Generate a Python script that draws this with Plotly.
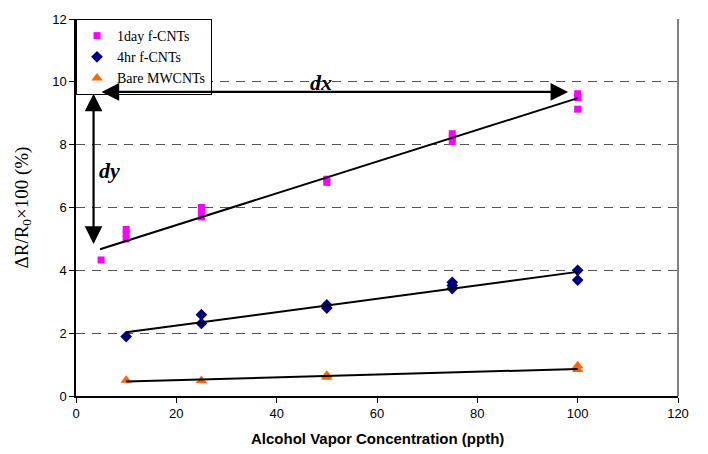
import plotly.graph_objects as go

# ---- data ----
day1_x = [5, 10, 10, 10, 25, 25, 25, 50, 50, 75, 75, 75, 100, 100, 100]
day1_y = [4.33, 5.0, 5.15, 5.3, 5.7, 5.85, 6.0, 6.8, 6.9, 8.1, 8.22, 8.35, 9.13, 9.5, 9.62]

hr4_x = [10, 25, 25, 50, 50, 75, 75, 75, 100, 100]
hr4_y = [1.89, 2.31, 2.59, 2.8, 2.9, 3.42, 3.52, 3.62, 3.69, 4.0]

bare_x = [10, 25, 50, 50, 100, 100]
bare_y = [0.5, 0.49, 0.6, 0.66, 0.84, 0.96]

# linear trend lines (slope, intercept) and x-span
fit_day1 = (0.0505, 4.43)
fit_hr4 = (0.02136, 1.815)
fit_bare = (0.00444, 0.416)
span_day1 = [4.8, 100]
span_hr4 = [10, 100]
span_bare = [10, 100]

x_ticks = [0, 20, 40, 60, 80, 100, 120]
y_ticks = [0, 2, 4, 6, 8, 10, 12]

fig = go.Figure()

fig.add_trace(go.Scatter(x=day1_x, y=day1_y, mode="markers", name="1day f-CNTs",
                         marker=dict(symbol="square", size=7, color="#FF00FF")))
fig.add_trace(go.Scatter(x=hr4_x, y=hr4_y, mode="markers", name="4hr f-CNTs",
                         marker=dict(symbol="diamond", size=9, color="#000080")))
fig.add_trace(go.Scatter(x=bare_x, y=bare_y, mode="markers", name="Bare MWCNTs",
                         marker=dict(symbol="triangle-up", size=10, color="#FF6600")))

for (m, b), span in [(fit_day1, span_day1), (fit_hr4, span_hr4), (fit_bare, span_bare)]:
    fig.add_trace(go.Scatter(x=span, y=[m * v + b for v in span], mode="lines",
                             line=dict(color="black", width=2), showlegend=False,
                             hoverinfo="skip"))

# right border of plot area
fig.add_shape(type="line", xref="paper", yref="paper", x0=1, x1=1, y0=0, y1=1,
              line=dict(color="#808080", width=2))

# dx and dy double arrows
arrow_style = dict(showarrow=True, arrowhead=2, arrowsize=1.6, arrowwidth=2.2,
                   arrowcolor="black", arrowside="end+start", text="",
                   xref="x", yref="y", axref="x", ayref="y")
fig.add_annotation(x=98.1, y=9.68, ax=4.8, ay=9.68, **arrow_style)
fig.add_annotation(x=3.5, y=4.84, ax=3.5, ay=9.67, **arrow_style)

fig.add_annotation(x=48.8, y=9.98, xref="x", yref="y", text="<b><i>dx</i></b>",
                   showarrow=False, font=dict(family="Liberation Serif", size=22, color="black"))
fig.add_annotation(x=6.6, y=7.17, xref="x", yref="y", text="<b><i>dy</i></b>",
                   showarrow=False, font=dict(family="Liberation Serif", size=22, color="black"))

# axis titles
fig.add_annotation(x=-54 / 602, y=0.5, xref="paper", yref="paper",
                   xanchor="center", yanchor="middle",
                   text="ΔR/R<sub>0</sub>×100 (%)", textangle=-90, showarrow=False,
                   font=dict(family="Liberation Serif", size=19, color="black"))
fig.add_annotation(x=0.5, y=-(439 - 396) / 382, xref="paper", yref="paper",
                   xanchor="center", yanchor="middle",
                   text="<b>Alcohol Vapor Concentration (ppth)</b>", showarrow=False,
                   font=dict(family="Liberation Sans", size=15, color="black"))

fig.update_layout(
    width=708, height=454,
    margin=dict(l=76, r=30, t=14, b=58),
    paper_bgcolor="white", plot_bgcolor="white",
    font=dict(family="Liberation Sans", size=13, color="black"),
    showlegend=True,
    legend=dict(x=0, y=1, xanchor="left", yanchor="top", bgcolor="white",
                bordercolor="black", borderwidth=1, itemwidth=30,
                font=dict(family="Liberation Serif", size=14, color="black"),
                tracegroupgap=0),
    xaxis=dict(range=[0, 120], tickvals=x_ticks, showgrid=False, zeroline=False,
               showline=True, linecolor="black", linewidth=1.5,
               ticks="outside", ticklen=5, tickcolor="black", fixedrange=True),
    yaxis=dict(range=[0, 12], tickvals=y_ticks, showgrid=True, gridcolor="#555555",
               griddash="9px,7px", gridwidth=1, zeroline=False,
               showline=True, linecolor="black", linewidth=1.5,
               ticks="outside", ticklen=5, tickcolor="black", fixedrange=True),
)

fig.write_html("out.html", config={"displayModeBar": False},
               post_script="document.body.style.margin='0';")
